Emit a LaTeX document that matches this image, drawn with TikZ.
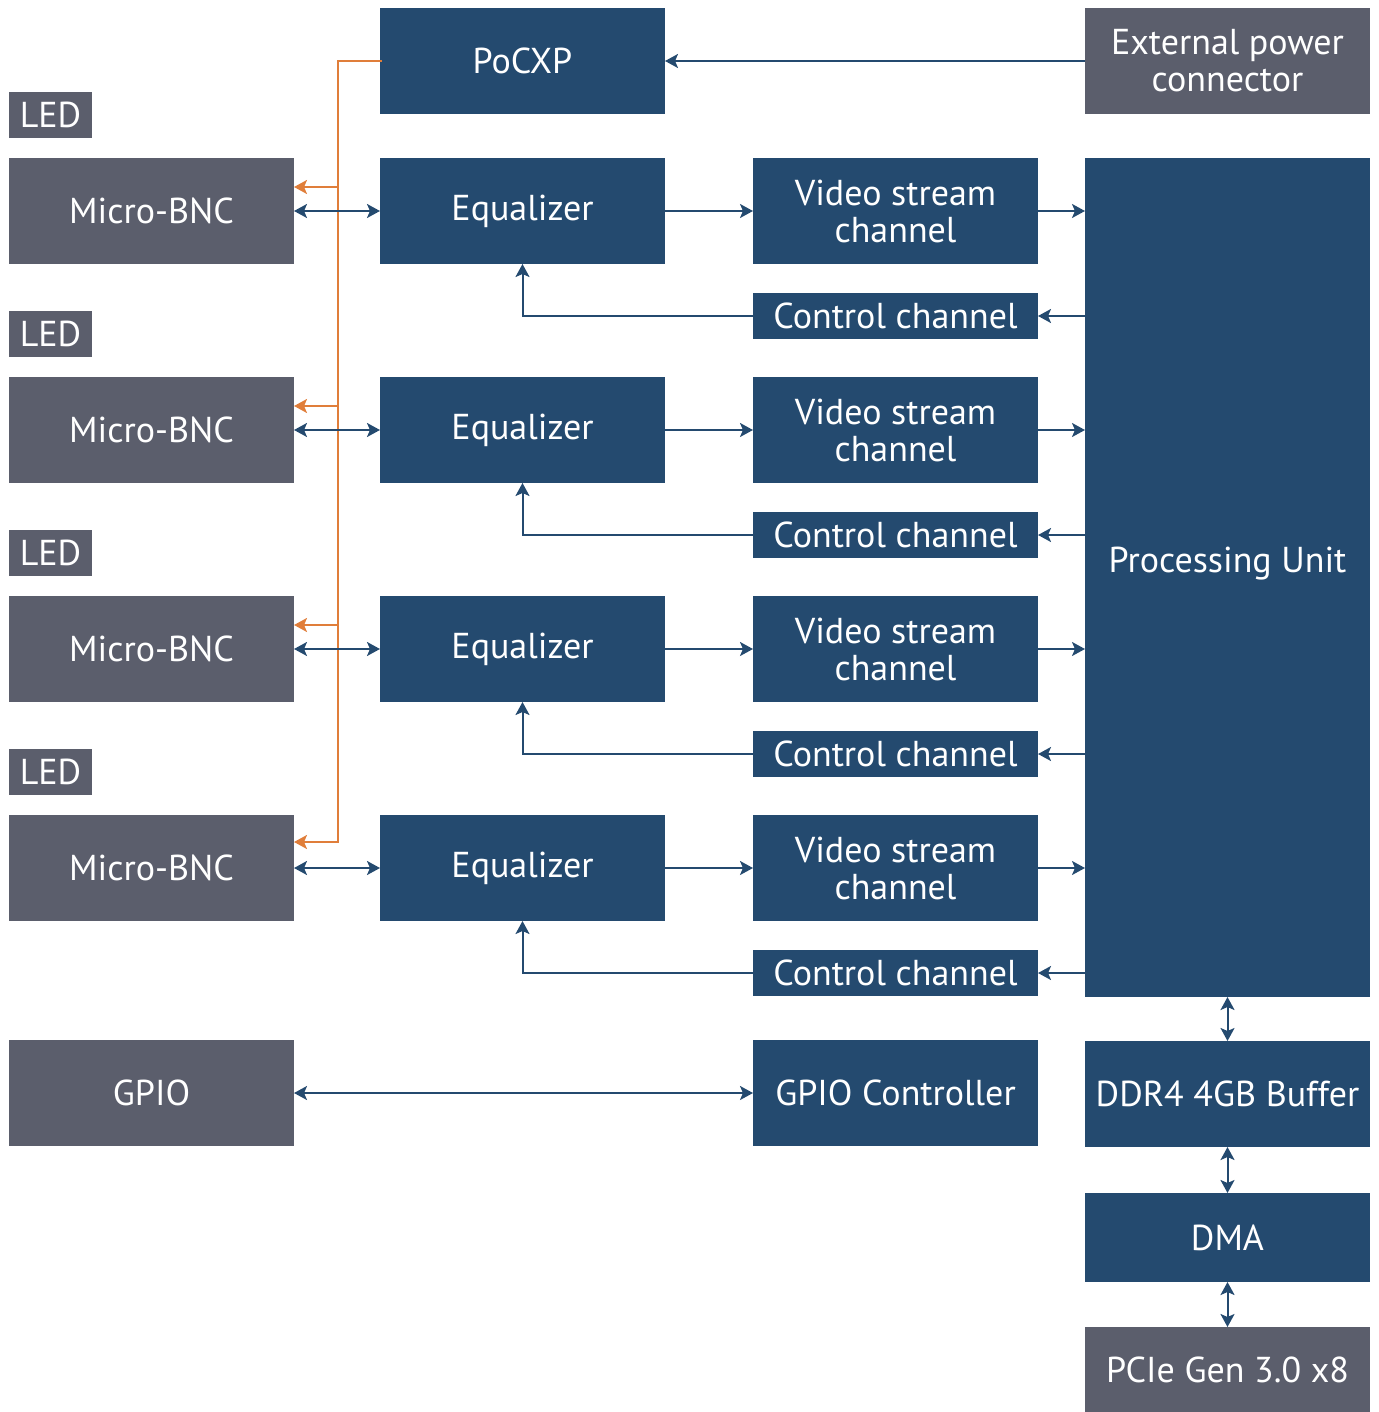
\documentclass[tikz,border=0pt]{standalone}
\usepackage{fontspec}
\setmainfont{PT Sans}
\usepackage{tikz}
\usetikzlibrary{positioning}
\usetikzlibrary{arrows.meta}
\usepackage{xcolor}
\definecolor{pcblue}{RGB}{36, 74, 111}
\definecolor{pcgray}{RGB}{91, 94, 108}
\definecolor{pcorange}{RGB}{224, 126, 58}

\begin{document}
\begin{tikzpicture}[
            x=1pt, y=-1pt,
            >={Stealth[length=13pt, width=14pt, inset=3pt]},
            box/.style={
                rectangle,
                fill=#1,
                text=white,
                inner sep=0pt,
                outer sep=0pt,
                minimum width=285pt,
                minimum height=106pt,
                align=center,
                font=\fontsize{36}{37}\selectfont
            },
            small/.style={minimum height=46pt},
            wire/.style={draw=pcblue, line width=2pt},
            pwr/.style={draw=pcorange, line width=2pt}
        ]
            \useasboundingbox (0,0) rectangle (1378,1412);

            % Nodes
            \node[box=pcgray] (bnc1) at (151.5,211) {Micro-BNC};
            \node[box=pcgray, below=113pt of bnc1] (bnc2) {Micro-BNC};
            \node[box=pcgray, below=113pt of bnc2] (bnc3) {Micro-BNC};
            \node[box=pcgray, below=113pt of bnc3] (bnc4) {Micro-BNC};
            \node[box=pcgray, below=119pt of bnc4] (gpio) {GPIO};

            \node[box=pcgray, small, minimum width=83pt, above=20pt of bnc1.north west, anchor=south west] (led1) {LED};
            \node[box=pcgray, small, minimum width=83pt, above=20pt of bnc2.north west, anchor=south west] (led2) {LED};
            \node[box=pcgray, small, minimum width=83pt, above=20pt of bnc3.north west, anchor=south west] (led3) {LED};
            \node[box=pcgray, small, minimum width=83pt, above=20pt of bnc4.north west, anchor=south west] (led4) {LED};

            \node[box=pcblue, right=86pt of bnc1] (eq1) {Equalizer};
            \node[box=pcblue, right=86pt of bnc2] (eq2) {Equalizer};
            \node[box=pcblue, right=86pt of bnc3] (eq3) {Equalizer};
            \node[box=pcblue, right=86pt of bnc4] (eq4) {Equalizer};
            \node[box=pcblue, above=44pt of eq1] (pocxp) {PoCXP};

            \node[box=pcblue, right=88pt of eq1] (vid1) {Video stream\\channel};
            \node[box=pcblue, right=88pt of eq2] (vid2) {Video stream\\channel};
            \node[box=pcblue, right=88pt of eq3] (vid3) {Video stream\\channel};
            \node[box=pcblue, right=88pt of eq4] (vid4) {Video stream\\channel};

            \node[box=pcblue, small, below=29pt of vid1] (ctl1) {Control channel};
            \node[box=pcblue, small, below=29pt of vid2] (ctl2) {Control channel};
            \node[box=pcblue, small, below=29pt of vid3] (ctl3) {Control channel};
            \node[box=pcblue, small, below=29pt of vid4] (ctl4) {Control channel};
            \node[box=pcblue, below=44pt of ctl4] (gpioctl) {GPIO Controller};

            \node[box=pcblue, minimum height=839pt, text depth=36pt, anchor=north west] (pu) at ([xshift=47pt]vid1.north east) {Processing Unit};
            \node[box=pcgray, above=44pt of pu] (ext) {External power\\connector};
            \node[box=pcblue, below=44pt of pu] (ddr) {DDR4 4GB Buffer};
            \node[box=pcblue, minimum height=89pt, below=46pt of ddr] (dma) {DMA};
            \node[box=pcgray, minimum height=85pt, below=45pt of dma] (pcie) {PCIe Gen 3.0 x8};

            % Power over coax
            \coordinate (pin1) at ([yshift=24pt]bnc1.east);
            \coordinate (pin2) at ([yshift=24pt]bnc2.east);
            \coordinate (pin3) at ([yshift=24pt]bnc3.east);
            \coordinate (pin4) at ([yshift=26pt]bnc4.east);
            \draw[pwr, ->] ([xshift=2pt]pocxp.west) -- ++(-44,0) coordinate (bus) |- (pin4);
            \draw[pwr, ->] (bus |- pin1) -- (pin1);
            \draw[pwr, ->] (bus |- pin2) -- (pin2);
            \draw[pwr, ->] (bus |- pin3) -- (pin3);

            % Arrows
            \draw[wire, ->] (ext.west) -- (pocxp.east);

            \draw[wire, <->] (bnc1.east) -- (eq1.west);
            \draw[wire, <->] (bnc2.east) -- (eq2.west);
            \draw[wire, <->] (bnc3.east) -- (eq3.west);
            \draw[wire, <->] (bnc4.east) -- (eq4.west);

            \draw[wire, ->] (eq1.east) -- (vid1.west);
            \draw[wire, ->] (eq2.east) -- (vid2.west);
            \draw[wire, ->] (eq3.east) -- (vid3.west);
            \draw[wire, ->] (eq4.east) -- (vid4.west);

            \draw[wire, ->] (vid1.east) -- (vid1.east -| pu.west);
            \draw[wire, ->] (vid2.east) -- (vid2.east -| pu.west);
            \draw[wire, ->] (vid3.east) -- (vid3.east -| pu.west);
            \draw[wire, ->] (vid4.east) -- (vid4.east -| pu.west);

            \draw[wire, ->] (ctl1.east -| pu.west) -- (ctl1.east);
            \draw[wire, ->] (ctl2.east -| pu.west) -- (ctl2.east);
            \draw[wire, ->] (ctl3.east -| pu.west) -- (ctl3.east);
            \draw[wire, ->] (ctl4.east -| pu.west) -- (ctl4.east);

            \draw[wire, ->] (ctl1.west) -| (eq1.south);
            \draw[wire, ->] (ctl2.west) -| (eq2.south);
            \draw[wire, ->] (ctl3.west) -| (eq3.south);
            \draw[wire, ->] (ctl4.west) -| (eq4.south);

            \draw[wire, <->] (gpio.east) -- (gpioctl.west);
            \draw[wire, <->] (pu.south) -- (ddr.north);
            \draw[wire, <->] (ddr.south) -- (dma.north);
            \draw[wire, <->] (dma.south) -- (pcie.north);
        \end{tikzpicture}
\end{document}
